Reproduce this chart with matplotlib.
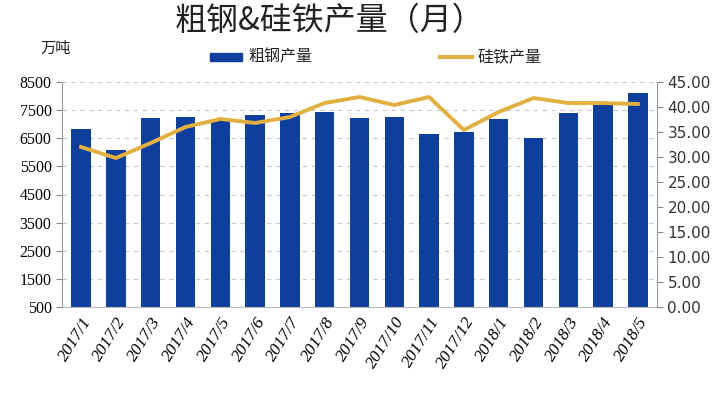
import matplotlib
matplotlib.use("Agg")
import matplotlib.pyplot as plt
from matplotlib.ticker import FixedLocator

plt.rcParams['font.family'] = ['Noto Sans CJK SC', 'DejaVu Sans']

months = ["2017/1", "2017/2", "2017/3", "2017/4", "2017/5", "2017/6", "2017/7",
          "2017/8", "2017/9", "2017/10", "2017/11", "2017/12", "2018/1", "2018/2",
          "2018/3", "2018/4", "2018/5"]
steel = [6830, 6080, 7220, 7260, 7150, 7330, 7400, 7430, 7220, 7260,
         6650, 6720, 7180, 6510, 7400, 7680, 8110]
ferrosilicon = [32.0, 29.8, 32.8, 36.0, 37.6, 36.8, 38.0, 40.8, 42.0, 40.4,
                42.0, 35.4, 39.0, 41.8, 40.8, 40.8, 40.6]
left_ticks = [500, 1500, 2500, 3500, 4500, 5500, 6500, 7500, 8500]
right_ticks = [0, 5, 10, 15, 20, 25, 30, 35, 40, 45]

fig = plt.figure(figsize=(7.2, 4.13), dpi=100)
ax = fig.add_axes([62/720, 1-307/413, (657-62)/720, (307-82)/413])
x = list(range(len(months)))
ax.bar(x, steel, width=0.56, color='#0f3f9c', zorder=2)
ax.set_ylim(500, 8500)
ax.set_xlim(-0.55, len(months)-0.45)
ax.yaxis.set_major_locator(FixedLocator(left_ticks))
ax.set_yticklabels([str(v) for v in left_ticks], family=['Liberation Serif'], fontsize=11.5)
ax.grid(axis='y', linestyle=(0, (4, 4)), color='#c8c8c8', linewidth=0.8, zorder=0)
ax.set_xticks(x)
ax.set_xticklabels(months, rotation=58, ha='right', rotation_mode='anchor',
                   family=['Liberation Serif'], style='italic', fontsize=12.5)
ax.tick_params(axis='x', length=0, pad=5)
ax.tick_params(axis='y', length=4, color='#888888', direction='out')
for s in ['top', 'right']:
    ax.spines[s].set_visible(False)
ax.spines['left'].set_color('#999999')
ax.spines['bottom'].set_color('#bbbbbb')

ax2 = ax.twinx()
ax2.plot(x, ferrosilicon, color='#e2b040', linewidth=2.8, zorder=3)
ax2.set_ylim(0, 45)
ax2.yaxis.set_major_locator(FixedLocator(right_ticks))
ax2.set_yticklabels([f"{v:.2f}" for v in right_ticks], family=['DejaVu Sans'], fontsize=11, color='#333333')
ax2.tick_params(axis='y', length=4, color='#888888', direction='out')
for s in ['top', 'left', 'bottom']:
    ax2.spines[s].set_visible(False)
ax2.spines['right'].set_color('#999999')

fig.text(330/720, 1-21/413, "粗钢&硅铁产量（月）", ha='center', va='center', fontsize=23,
         weight='medium', color='#222222')
fig.text(56/720, 1-48/413, "万吨", ha='center', va='center', fontsize=11, color='#222222')

# legend
fig.patches.append(plt.Rectangle((210/720, 1-61/413), 32/720, 8/413, transform=fig.transFigure,
                                 color='#0f3f9c', figure=fig))
fig.text(248/720, 1-57/413, "粗钢产量", ha='left', va='center', fontsize=11.5, style='italic',
         weight='medium', color='#222222')
fig.lines.append(plt.Line2D([440/720, 472/720], [1-57/413, 1-57/413], transform=fig.transFigure,
                            color='#e2b040', linewidth=3, figure=fig))
fig.text(477/720, 1-57/413, "硅铁产量", ha='left', va='center', fontsize=11.5, style='italic',
         weight='medium', color='#222222')

fig.savefig("out.png", dpi=100)
